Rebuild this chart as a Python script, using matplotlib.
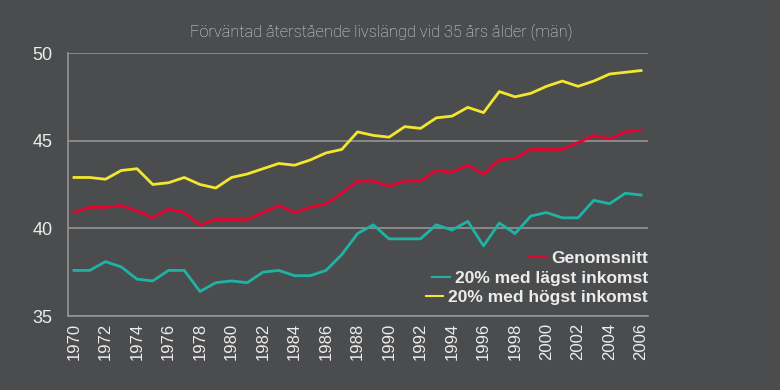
import matplotlib
matplotlib.use("Agg")
import matplotlib.pyplot as plt
from matplotlib.lines import Line2D

years = list(range(1970, 2007))

genomsnitt = [40.9, 41.2, 41.2, 41.3, 41.0, 40.6, 41.1, 40.9, 40.2, 40.5,
              40.5, 40.5, 40.9, 41.3, 40.9, 41.2, 41.4, 42.0, 42.7, 42.7,
              42.4, 42.7, 42.7, 43.3, 43.2, 43.6, 43.1, 43.9, 44.0, 44.5,
              44.5, 44.5, 44.9, 45.3, 45.1, 45.5, 45.6]

lagst = [37.6, 37.6, 38.1, 37.8, 37.1, 37.0, 37.6, 37.6, 36.4, 36.9,
         37.0, 36.9, 37.5, 37.6, 37.3, 37.3, 37.6, 38.5, 39.7, 40.2,
         39.4, 39.4, 39.4, 40.2, 39.9, 40.4, 39.0, 40.3, 39.7, 40.7,
         40.9, 40.6, 40.6, 41.6, 41.4, 42.0, 41.9]

hogst = [42.9, 42.9, 42.8, 43.3, 43.4, 42.5, 42.6, 42.9, 42.5, 42.3,
         42.9, 43.1, 43.4, 43.7, 43.6, 43.9, 44.3, 44.5, 45.5, 45.3,
         45.2, 45.8, 45.7, 46.3, 46.4, 46.9, 46.6, 47.8, 47.5, 47.7,
         48.1, 48.4, 48.1, 48.4, 48.8, 48.9, 49.0]

series_labels = ["Genomsnitt", "20% med lägst inkomst", "20% med högst inkomst"]
title = "Förväntad återstående livslängd vid 35 års ålder (män)"
xticks = list(range(1970, 2007, 2))
yticks = [35, 40, 45, 50]

BG = "#4b4c4e"
RED = "#e4032e"
TEAL = "#1fb3a5"
YEL = "#f3e62f"
GRID = "#959595"
TXT = "#ececec"

fig = plt.figure(figsize=(7.8, 3.9), dpi=100, facecolor=BG)
ax = fig.add_axes([68/780, 1-316/390, (648-68)/780, (316-53)/390])
ax.set_facecolor(BG)

lw = 2.0
ax.plot(years, hogst, color=YEL, lw=lw, zorder=3)
ax.plot(years, genomsnitt, color=RED, lw=lw, zorder=3)
ax.plot(years, lagst, color=TEAL, lw=lw, zorder=3)

ax.set_xlim(1969.62, 2006.44)
ax.set_ylim(35, 50)
ax.set_xticks(xticks)
ax.set_xticklabels([str(x) for x in xticks], rotation=90,
                   fontfamily="Liberation Sans", fontsize=12, color=TXT)
ax.set_yticks(yticks)
ax.set_yticklabels([str(y) for y in yticks],
                   fontfamily="Liberation Sans", fontsize=13, color=TXT)
ax.tick_params(axis="both", length=0)
ax.tick_params(axis="x", pad=5)
ax.tick_params(axis="y", pad=11)

for s in ["top", "right"]:
    ax.spines[s].set_visible(False)
for s in ["left", "bottom"]:
    ax.spines[s].set_color(GRID)
    ax.spines[s].set_linewidth(1.2)
ax.yaxis.grid(True, color=GRID, lw=1.2)
ax.set_axisbelow(True)

handles = [Line2D([], [], color=RED, lw=1.5),
           Line2D([], [], color=TEAL, lw=1.5),
           Line2D([], [], color=YEL, lw=1.5)]
leg = ax.legend(handles, series_labels, loc="lower right",
                bbox_to_anchor=(1.0, 0.04), frameon=False,
                handlelength=1.0, handletextpad=0.3, labelspacing=0.25,
                borderaxespad=0.0, borderpad=0.0,
                prop={"family": "Liberation Sans", "weight": "bold", "size": 12.5})
for t in leg.get_texts():
    t.set_color(TXT)
for col in leg._legend_handle_box.get_children():
    col.align = "right"

fig.text(381/780, 1-32/390, title, ha="center", va="center",
         fontfamily="Roboto", fontweight="light", fontsize=11.8,
         color="#dedede")

fig.savefig("out.png", dpi=100, facecolor=BG)
